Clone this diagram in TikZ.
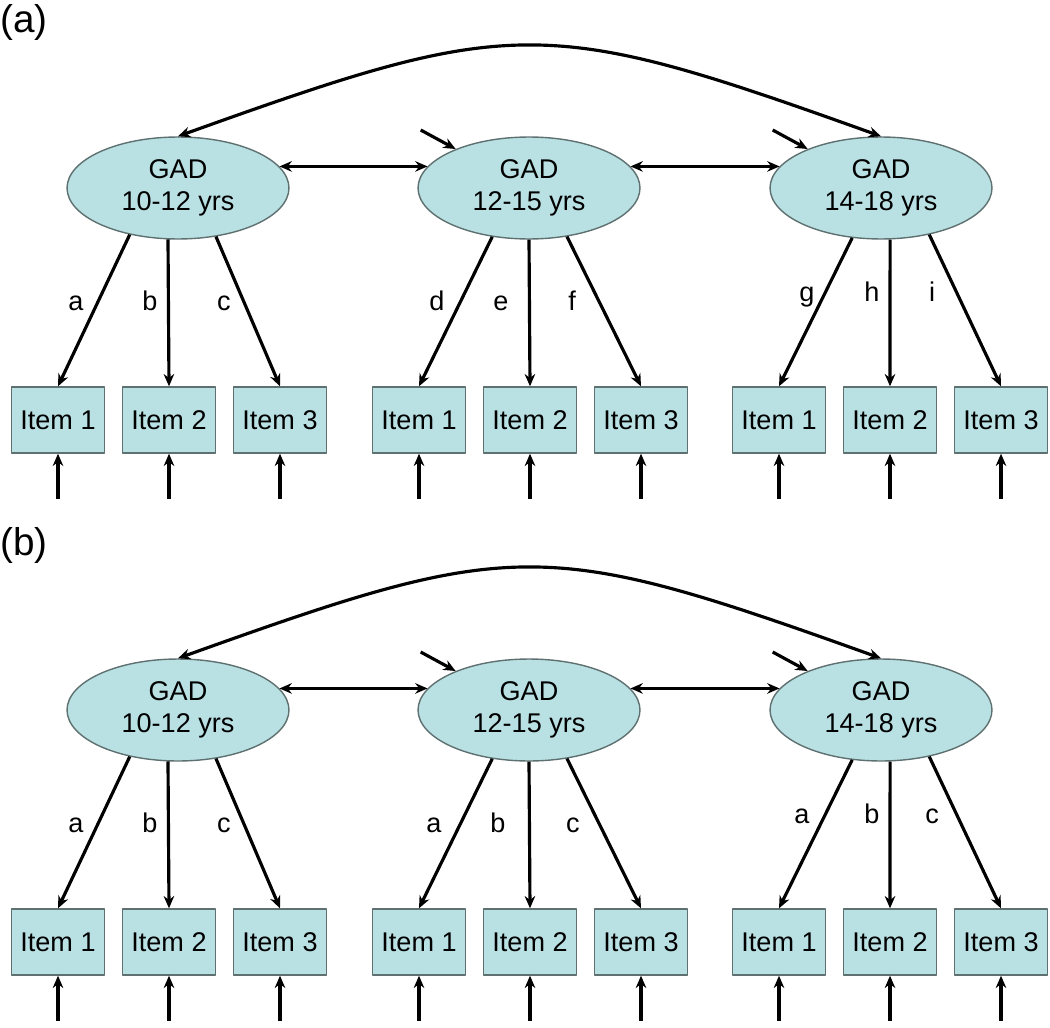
\documentclass[tikz,border=0pt]{standalone}
\usepackage{fontspec}
\setmainfont{Liberation Sans}
\usetikzlibrary{shapes.geometric,calc,arrows.meta}
\definecolor{gadfill}{RGB}{185,225,228}
\definecolor{gadedge}{RGB}{95,112,112}
\tikzset{
  latent/.style={ellipse, draw=gadedge, line width=0.8pt, fill=gadfill, minimum width=4.44cm, minimum height=2.04cm, inner sep=0pt, align=center, font=\fontsize{15.4}{18.5}\selectfont},
  itembox/.style={rectangle, draw=gadedge, line width=0.8pt, fill=gadfill, minimum width=1.86cm, minimum height=1.32cm, inner sep=0pt, font=\fontsize{15.4}{18.5}\selectfont},
  lab/.style={anchor=base, inner sep=0pt, font=\fontsize{15.4}{18.5}\selectfont},
  panel/.style={inner sep=0pt, font=\fontsize{22}{26}\selectfont},
  arr/.style={line width=1.8pt}
}
\begin{document}
\begin{tikzpicture}[x=0.02cm, y=-0.02cm, >={Stealth[length=7pt,width=6pt]}, line join=round]
  \useasboundingbox (0,0) rectangle (1050,1027);
  \foreach \p/\dy in {a/0,b/522}{
  \begin{scope}[shift={(0,\dy)}]
    \node[panel] (pan\p) at (24,23) {(\p)};
    % latent factors
    \node[latent] (gad\p1) at (178,188) {GAD\\10-12 yrs};
    \node[latent] (gad\p2) at (529,188) {GAD\\12-15 yrs};
    \node[latent] (gad\p3) at (881,188) {GAD\\14-18 yrs};
    % items and their errors
    \foreach \g/\x in {1/58,2/419,3/779}{
      \foreach \k in {1,2,3}{
        \node[itembox] (it\p\g\k) at ({\x+111*(\k-1)},420) {Item \k};
        \coordinate (u\p\g\k) at ($(it\p\g\k.south)+(0,45)$);
        \draw[arr,->] (u\p\g\k) -- (it\p\g\k.south);
      }
    }
    % loadings
    \foreach \g/\aa/\ab/\ac in {1/224/259/308,2/233/270/308,3/240/280/316}{
      \draw[arr,->] (gad\p\g.\aa) -- (it\p\g1.north);
      \draw[arr,->] (gad\p\g.\ab) -- (it\p\g2.north);
      \draw[arr,->] (gad\p\g.\ac) -- (it\p\g3.north);
    }
    % correlations
    \draw[arr,<->] (gad\p1.12) -- (gad\p2.168);
    \draw[arr,<->] (gad\p2.12) -- (gad\p3.168);
    \draw[arr,<->] (gad\p1.north) .. controls +(337,-121) and +(-337,-121) .. (gad\p3.north);
    % residuals
    \foreach \g in {2,3}{
      \coordinate (r\p\g) at ($(gad\p\g.152)+(-35,-19)$);
      \draw[arr,->] (r\p\g) -- (gad\p\g.152);
    }
  \end{scope}
  }
  % path labels (a)
  \foreach \lx/\ly/\t in {76/310/a,150/310/b,224/310/c,437/310/d,501/310/e,572/310/f,807/301/g,872/301/h,932/301/i}
    \node[lab] (l\t) at (\lx,\ly) {\t};
  % path labels (b)
  \begin{scope}[shift={(0,522)}]
    \foreach \lx/\ly/\t [count=\n] in {76/310/a,150/310/b,224/310/c,434/310/a,498/310/b,573/310/c,802/301/a,872/301/b,932/301/c}
      \node[lab] (m\n) at (\lx,\ly) {\t};
  \end{scope}
\end{tikzpicture}
\end{document}
